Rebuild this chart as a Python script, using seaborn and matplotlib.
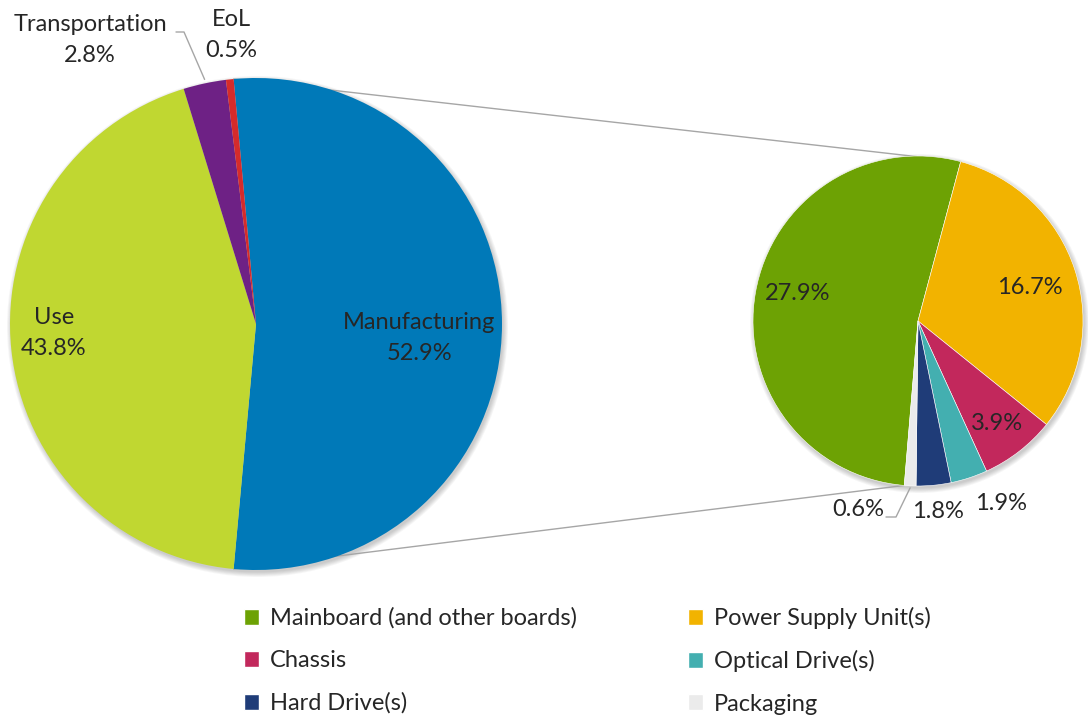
import numpy as np
import matplotlib.pyplot as plt
import matplotlib.patches as mpatches
import seaborn as sns

# data
phases = ["Manufacturing", "Use", "Transportation", "EoL"]
phase_pct = [52.9, 43.8, 2.8, 0.5]
phase_colors = ["#0079B8", "#C0D731", "#6E2185", "#D52B2B"]

parts = ["Mainboard (and other boards)", "Power Supply Unit(s)", "Chassis",
         "Optical Drive(s)", "Hard Drive(s)", "Packaging"]
part_pct = [27.9, 16.7, 3.9, 1.9, 1.8, 0.6]
part_colors = ["#6DA204", "#F2B300", "#C2285C", "#43AFB0", "#1F3C78", "#EBEBEB"]

sns.set_style("white")
plt.rcParams["font.family"] = ["Lato", "DejaVu Sans"]
fs = 17

fig = plt.figure(figsize=(10.88, 7.19), dpi=100)
ax = fig.add_axes([0, 0, 1, 1])

c1, r1 = (256, 395), 246
c2, r2 = (918, 398), 165

# soft shadow under both pies
for c, r in [(c1, r1), (c2, r2)]:
    for k in range(6):
        ax.add_patch(mpatches.Circle((c[0] + 1.5, c[1] - 2.5), r + k * 0.9,
                                     color="black", alpha=0.035, lw=0, zorder=0))

# main pie, manufacturing slice centred on the right
start1 = 360 * phase_pct[0] / 100 / 2
w1, _ = ax.pie(phase_pct, colors=phase_colors, startangle=start1, counterclock=False,
               center=c1, radius=r1, wedgeprops=dict(linewidth=0))

# secondary pie: breakdown of manufacturing
start2 = 75 + 360 * part_pct[0] / sum(part_pct)
w2, _ = ax.pie(part_pct, colors=part_colors, startangle=start2, counterclock=False,
               center=c2, radius=r2, wedgeprops=dict(edgecolor="white", linewidth=0.4))

# connector lines between the pies
def edge(c, r, ang):
    a = np.deg2rad(ang)
    return c[0] + r * np.cos(a), c[1] + r * np.sin(a)

for a1, a2 in [(start1, 75), (-start1, start2)]:
    p, q = edge(c1, r1, a1), edge(c2, r2, a2)
    ax.plot([p[0], q[0]], [p[1], q[1]], color="#A6A6A6", lw=1, zorder=0)

# labels main pie
lab_kw = dict(ha="center", va="center", fontsize=fs, linespacing=1.55)
ax.text(419, 381, "Manufacturing\n52.9%", **lab_kw)
ax.text(54, 386, "Use\n43.8%", **lab_kw)
ax.text(90, 679, "Transportation\n2.8%", **lab_kw)
ax.text(231, 684, "EoL\n0.5%", **lab_kw)

mid_tr = start1 - 360 * (phase_pct[0] + phase_pct[1] + phase_pct[2] / 2) / 100
px, py = edge(c1, r1, mid_tr)
ax.plot([176, 184, px], [687, 687, py + 4], color="#A6A6A6", lw=1)

# labels secondary pie
sec_pos = [(798, 425), (1030, 431), (997, 296), (1001, 216), (938, 208), (858, 209)]
for (x, y), v in zip(sec_pos, part_pct):
    ax.text(x, y, f"{v}%", ha="center", va="center", fontsize=fs)

pk_ang = start2 - 360 * (sum(part_pct) - part_pct[5] / 2) / sum(part_pct)
px, py = edge(c2, r2, pk_ang)
ax.plot([886, 896, px], [202, 202, py - 2], color="#A6A6A6", lw=1)

ax.set_xlim(0, 1088)
ax.set_ylim(0, 719)
ax.set_aspect("equal")
ax.axis("off")

order = [0, 2, 4, 1, 3, 5]
handles = [mpatches.Patch(facecolor=part_colors[i], label=parts[i]) for i in order]
fig.legend(handles=handles, ncol=2, loc="center", bbox_to_anchor=(0.54, 0.081),
           frameon=False, fontsize=fs, handlelength=0.65, handleheight=0.65,
           handletextpad=0.45, columnspacing=4.7, labelspacing=0.9)

fig.savefig("out.png", dpi=100)
